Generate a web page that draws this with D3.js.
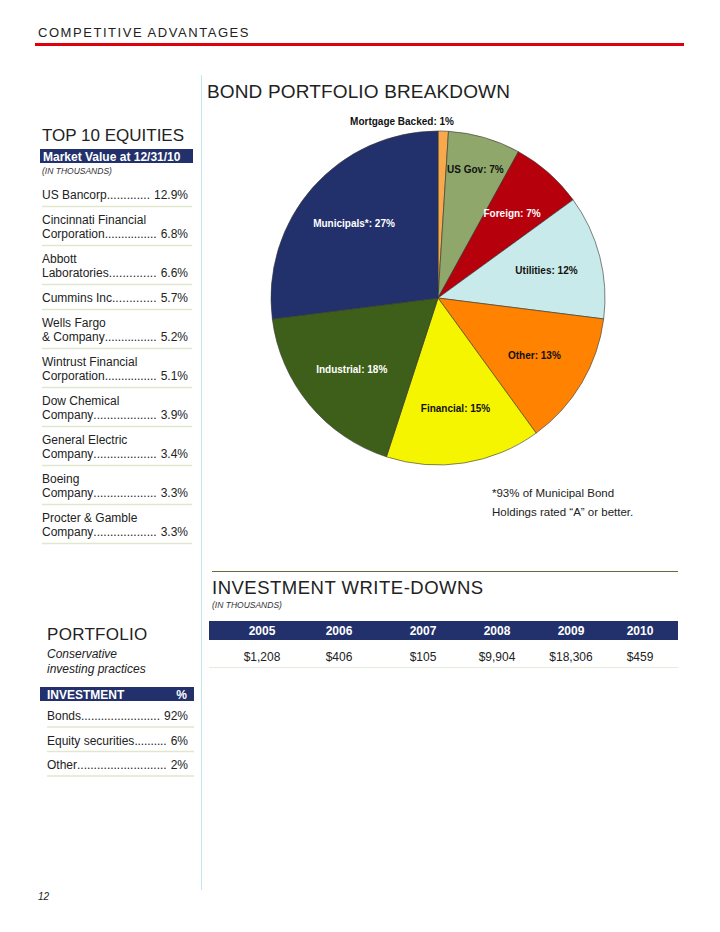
<!DOCTYPE html>
<html>
<head>
<meta charset="utf-8">
<script src="https://cdn.jsdelivr.net/npm/d3@7"></script>
<style>
  body { margin: 0; background: #fff; }
  svg text { font-family: "Liberation Sans", Arial, Helvetica, sans-serif; }
</style>
</head>
<body>
<script>
// Bond portfolio slices, clockwise from 12 o'clock
const bondLabels = ["Mortgage Backed", "US Gov", "Foreign", "Utilities", "Other", "Financial", "Industrial", "Municipals*"];
const bondPct = [1, 7, 7, 12, 13, 15, 18, 27];
const bondColors = ["#f7a94b", "#8fa76a", "#b6000b", "#c9eaea", "#ff8200", "#f6f500", "#3e5f1a", "#22316b"];

// Top 10 equities
const equityNames = ["US Bancorp", "Cincinnati Financial\nCorporation", "Abbott\nLaboratories", "Cummins Inc.",
  "Wells Fargo\n& Company", "Wintrust Financial\nCorporation", "Dow Chemical\nCompany", "General Electric\nCompany",
  "Boeing\nCompany", "Procter & Gamble\nCompany"];
const equityPct = ["12.9%", "6.8%", "6.6%", "5.7%", "5.2%", "5.1%", "3.9%", "3.4%", "3.3%", "3.3%"];

// Portfolio mix
const investNames = ["Bonds", "Equity securities", "Other"];
const investPct = ["92%", "6%", "2%"];

// Write-downs
const years = ["2005", "2006", "2007", "2008", "2009", "2010"];
const writeDowns = ["$1,208", "$406", "$105", "$9,904", "$18,306", "$459"];

const W = 720, H = 932;
const navy = "#22316b";
const ruleGreen = "#dfe7cc";

const svg = d3.select("body").append("svg")
    .attr("width", W)
    .attr("height", H)
    .attr("viewBox", [0, 0, W, H]);

// Header
svg.append("text").attr("x", 38).attr("y", 37)
    .style("font-size", "13px").style("letter-spacing", "1.55px").attr("fill", "#222")
    .text("COMPETITIVE ADVANTAGES");
svg.append("rect").attr("x", 35).attr("y", 43).attr("width", 649).attr("height", 3).attr("fill", "#e0000b");

// Column divider
svg.append("line").attr("x1", 201.5).attr("x2", 201.5).attr("y1", 75).attr("y2", 890)
    .attr("stroke", "#c2e6ee").attr("stroke-width", 1);

// ---- Bond pie ----
svg.append("text").attr("x", 207).attr("y", 98)
    .style("font-size", "19px").style("letter-spacing", "0.15px").attr("fill", "#222")
    .text("BOND PORTFOLIO BREAKDOWN");

const cx = 438, cy = 298, r = 167;
const pie = d3.pie().sort(null).value(d => d.v);
const arc = d3.arc().innerRadius(0).outerRadius(r);
const slices = pie(bondLabels.map((l, i) => ({ l, v: bondPct[i], c: bondColors[i] })));

const pieG = svg.append("g").attr("transform", `translate(${cx},${cy})`);
pieG.selectAll("path")
    .data(slices)
    .enter().append("path")
    .attr("d", arc)
    .attr("fill", d => d.data.c)
    .attr("stroke", "#333")
    .attr("stroke-width", 0.6);

const whiteText = new Set(["Foreign", "Industrial", "Municipals*"]);
const labelR = { "US Gov": 134 };
pieG.selectAll("text.lbl")
    .data(slices)
    .enter().append("text")
    .attr("class", "lbl")
    .attr("text-anchor", "middle")
    .style("font-size", "10px").style("font-weight", "bold")
    .attr("fill", d => whiteText.has(d.data.l) ? "#fff" : "#111")
    .attr("transform", d => {
        if (d.data.l === "Mortgage Backed") return `translate(${-36},${-r - 6})`;
        const a = (d.startAngle + d.endAngle) / 2;
        const rr = labelR[d.data.l] || 112;
        return `translate(${Math.sin(a) * rr},${-Math.cos(a) * rr + 3.5})`;
    })
    .text(d => `${d.data.l}: ${d.data.v}%`);

// footnote
svg.append("text").attr("x", 492).attr("y", 497).style("font-size", "11.5px").attr("fill", "#222")
    .text("*93% of Municipal Bond");
svg.append("text").attr("x", 492).attr("y", 516).style("font-size", "11.5px").attr("fill", "#222")
    .text("Holdings rated \u201CA\u201D or better.");

// ---- Dotted leader rows ----
function leaderRow(g, x0, x1, yLast, name, pct, fs) {
    const lines = name.split("\n");
    lines.forEach((ln, i) => {
        g.append("text").attr("x", x0).attr("y", yLast - (lines.length - 1 - i) * 14)
            .attr("class", i === lines.length - 1 ? "lastln" : null)
            .style("font-size", fs + "px").attr("fill", "#222").text(ln);
    });
    const p = g.append("text").attr("x", x1).attr("y", yLast).attr("text-anchor", "end")
        .style("font-size", fs + "px").attr("fill", "#222").text(pct);
    const pw = p.node().getComputedTextLength();
    const nw = g.selectAll("text.lastln").nodes().pop().getComputedTextLength();
    g.selectAll("text.lastln").attr("class", null);
    // stretch a run of dots to fill the gap, leaving one space before the value
    const gap = (x1 - x0) - pw - nw - 4;
    const d = g.append("text").attr("x", x0 + nw).attr("y", yLast)
        .style("font-size", fs + "px").attr("fill", "#222").text(".");
    const dw = d.node().getComputedTextLength();
    const n = Math.max(1, Math.round(gap / dw));
    d.text(".".repeat(n)).attr("textLength", gap).attr("lengthAdjust", "spacing");
}

// ---- Top 10 equities ----
const left = svg.append("g");
left.append("text").attr("x", 42).attr("y", 141).style("font-size", "17px")
    .attr("fill", "#222").text("TOP 10 EQUITIES");
left.append("rect").attr("x", 40).attr("y", 149).attr("width", 153).attr("height", 14).attr("fill", navy);
left.append("text").attr("x", 43).attr("y", 160.5).style("font-size", "12px").style("font-weight", "bold")
    .attr("fill", "#fff").text("Market Value at 12/31/10");
left.append("text").attr("x", 42).attr("y", 174).style("font-size", "8.5px").style("font-style", "italic")
    .attr("fill", "#333").text("(IN THOUSANDS)");

let y = 199;
equityNames.forEach((n, i) => {
    const nl = n.split("\n").length;
    const yLast = y + (nl - 1) * 14;
    leaderRow(left, 42, 188, yLast, n, equityPct[i], 12);
    left.append("line").attr("x1", 42).attr("x2", 192).attr("y1", yLast + 7.5).attr("y2", yLast + 7.5)
        .attr("stroke", ruleGreen).attr("stroke-width", 1.3);
    y = yLast + 25;
});

// ---- Portfolio ----
left.append("text").attr("x", 47).attr("y", 640).style("font-size", "17px")
    .style("letter-spacing", "0.3px").attr("fill", "#222").text("PORTFOLIO");
left.append("text").attr("x", 47).attr("y", 658).style("font-size", "12px").style("font-style", "italic")
    .attr("fill", "#222").text("Conservative");
left.append("text").attr("x", 47).attr("y", 673).style("font-size", "12px").style("font-style", "italic")
    .attr("fill", "#222").text("investing practices");
left.append("rect").attr("x", 40).attr("y", 687).attr("width", 154).attr("height", 14).attr("fill", navy);
left.append("text").attr("x", 47).attr("y", 698.5).style("font-size", "12px").style("font-weight", "bold")
    .attr("fill", "#fff").text("INVESTMENT");
left.append("text").attr("x", 187).attr("y", 698.5).attr("text-anchor", "end").style("font-size", "12px")
    .style("font-weight", "bold").attr("fill", "#fff").text("%");

investNames.forEach((n, i) => {
    const yy = 720 + i * 24.5;
    leaderRow(left, 47, 188, yy, n, investPct[i], 12);
    left.append("line").attr("x1", 47).attr("x2", 194).attr("y1", yy + 7).attr("y2", yy + 7)
        .attr("stroke", ruleGreen).attr("stroke-width", 1.3);
});

// ---- Investment write-downs ----
svg.append("line").attr("x1", 212).attr("x2", 678).attr("y1", 571.5).attr("y2", 571.5)
    .attr("stroke", "#5d6e3c").attr("stroke-width", 1);
svg.append("text").attr("x", 212).attr("y", 594).style("font-size", "18.5px")
    .style("letter-spacing", "0.5px").attr("fill", "#222").text("INVESTMENT WRITE-DOWNS");
svg.append("text").attr("x", 212).attr("y", 608).style("font-size", "8.5px").style("font-style", "italic")
    .attr("fill", "#333").text("(IN THOUSANDS)");

const xCol = d3.scaleOrdinal().domain(years).range([262, 339, 423, 497, 571, 640]);
svg.append("rect").attr("x", 209).attr("y", 621).attr("width", 469).attr("height", 19).attr("fill", navy);
svg.selectAll("text.yr").data(years).enter().append("text")
    .attr("class", "yr").attr("x", d => xCol(d)).attr("y", 634.5).attr("text-anchor", "middle")
    .style("font-size", "12px").style("font-weight", "bold").attr("fill", "#fff").text(d => d);
svg.selectAll("text.wd").data(writeDowns).enter().append("text")
    .attr("class", "wd").attr("x", (d, i) => xCol(years[i])).attr("y", 661).attr("text-anchor", "middle")
    .style("font-size", "12px").attr("fill", "#222").text(d => d);
svg.append("line").attr("x1", 209).attr("x2", 678).attr("y1", 667.5).attr("y2", 667.5)
    .attr("stroke", "#e6ebdc").attr("stroke-width", 1);

// Page number
svg.append("text").attr("x", 38).attr("y", 900).style("font-size", "10px").style("font-style", "italic")
    .attr("fill", "#222").text("12");
</script>
</body>
</html>
